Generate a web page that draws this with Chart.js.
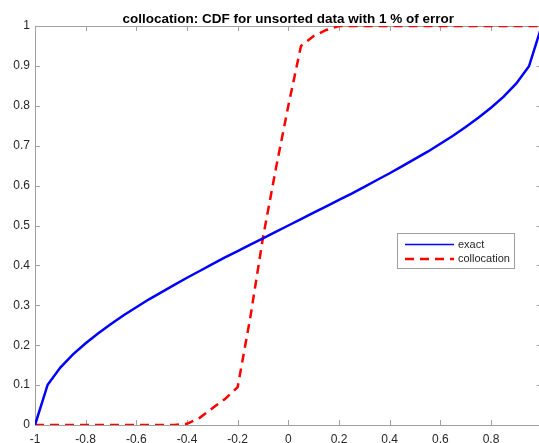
<!DOCTYPE html>
<html><head><meta charset="utf-8">
<script src="https://cdn.jsdelivr.net/npm/chart.js@4/dist/chart.umd.min.js"></script>
<style>
html,body{margin:0;padding:0;background:#fff;overflow:hidden}
#wrap{width:539px;height:443px;overflow:hidden;position:relative;background:#fff}
canvas{display:block}
</style></head>
<body><div id="wrap"><canvas id="c" width="552" height="443"></canvas></div>
<script>
const titleText = 'collocation: CDF for unsorted data with 1 % of error';
const seriesNames = ['exact', 'collocation'];

const xExact = [-1, -0.95, -0.9, -0.85, -0.8, -0.75, -0.7, -0.65, -0.6, -0.55, -0.5, -0.45, -0.4, -0.35, -0.3, -0.25, -0.2, -0.15, -0.1, -0.05, 0,
                0.05, 0.1, 0.15, 0.2, 0.25, 0.3, 0.35, 0.4, 0.45, 0.5, 0.55, 0.6, 0.65, 0.7, 0.75, 0.8, 0.85, 0.9, 0.95, 1];
const yExact = [0, 0.101, 0.144, 0.177, 0.205, 0.230, 0.253, 0.275, 0.295, 0.315, 0.333, 0.351, 0.369, 0.386, 0.403, 0.420, 0.436, 0.452, 0.468, 0.484, 0.5,
                0.516, 0.532, 0.548, 0.564, 0.580, 0.597, 0.614, 0.631, 0.649, 0.667, 0.685, 0.705, 0.725, 0.747, 0.770, 0.795, 0.823, 0.856, 0.899, 1];

const xColloc = [-1, -0.45, -0.4, -0.35, -0.3, -0.25, -0.2, -0.15, -0.1, -0.05, 0, 0.05, 0.1, 0.15, 0.2, 1];
const yColloc = [0, 0, 0.003, 0.018, 0.042, 0.065, 0.095, 0.27, 0.47, 0.64, 0.8, 0.95, 0.975, 0.99, 1, 1];

const xTickValues = [-1, -0.8, -0.6, -0.4, -0.2, 0, 0.2, 0.4, 0.6, 0.8, 1];
const xTickLabels = ['-1', '-0.8', '-0.6', '-0.4', '-0.2', '0', '0.2', '0.4', '0.6', '0.8', '1'];
const yTickValues = [0, 0.1, 0.2, 0.3, 0.4, 0.5, 0.6, 0.7, 0.8, 0.9, 1];
const yTickLabels = ['0', '0.1', '0.2', '0.3', '0.4', '0.5', '0.6', '0.7', '0.8', '0.9', '1'];

const AXIS_COLOR = '#a0a0a0';
const TEXT_COLOR = '#262626';
const FONT = '"Liberation Sans", Arial, Helvetica, sans-serif';

const toPts = (xs, ys) => xs.map((x, i) => ({x: x, y: ys[i]}));

const matlabAxes = {
  id: 'matlabAxes',
  beforeDatasetsDraw(chart) {
    const {ctx, chartArea: a, scales: {x, y}} = chart;
    ctx.save();
    ctx.strokeStyle = AXIS_COLOR;
    ctx.lineWidth = 1;
    ctx.beginPath();
    ctx.moveTo(a.left, a.top + 0.5); ctx.lineTo(a.right, a.top + 0.5);
    xTickValues.forEach(v => {
      const px = Math.round(x.getPixelForValue(v)) + 0.5;
      ctx.moveTo(px, a.bottom); ctx.lineTo(px, a.bottom - 5);
      ctx.moveTo(px, a.top); ctx.lineTo(px, a.top + 5);
    });
    yTickValues.forEach(v => {
      const py = Math.round(y.getPixelForValue(v)) + 0.5;
      ctx.moveTo(a.left, py); ctx.lineTo(a.left + 5, py);
      ctx.moveTo(a.right, py); ctx.lineTo(a.right - 5, py);
    });
    ctx.stroke();
    ctx.restore();
  },
  afterDraw(chart) {
    const {ctx, chartArea: a} = chart;
    ctx.save();
    ctx.fillStyle = '#000';
    ctx.font = 'bold 13.5px ' + FONT;
    ctx.textAlign = 'center';
    ctx.textBaseline = 'alphabetic';
    ctx.fillText(titleText, (a.left + a.right) / 2, 23);
    const bx = 397.5, by = 233.5, bw = 117, bh = 35;
    ctx.fillStyle = '#fff';
    ctx.fillRect(bx, by, bw, bh);
    ctx.strokeStyle = AXIS_COLOR;
    ctx.lineWidth = 1;
    ctx.strokeRect(bx, by, bw, bh);
    const ds = chart.data.datasets;
    const rows = [244.5, 259];
    ds.forEach((d, i) => {
      ctx.save();
      ctx.strokeStyle = d.borderColor;
      ctx.lineWidth = i === 0 ? 1.5 : 2.5;
      ctx.setLineDash(i === 0 ? [] : [9, 6]);
      ctx.beginPath();
      ctx.moveTo(405, rows[i]); ctx.lineTo(454, rows[i]);
      ctx.stroke();
      ctx.restore();
      ctx.fillStyle = TEXT_COLOR;
      ctx.font = '11px ' + FONT;
      ctx.textAlign = 'left';
      ctx.textBaseline = 'middle';
      ctx.fillText(d.label, 458, rows[i]);
    });
    ctx.restore();
  }
};

new Chart(document.getElementById('c'), {
  type: 'line',
  data: {
    datasets: [
      {label: seriesNames[0], data: toPts(xExact, yExact), borderColor: '#0000ff', borderWidth: 2.5,
       pointRadius: 0, fill: false, tension: 0},
      {label: seriesNames[1], data: toPts(xColloc, yColloc), borderColor: '#ff0000', borderWidth: 2.5,
       borderDash: [9, 6], pointRadius: 0, fill: false, tension: 0}
    ]
  },
  options: {
    responsive: false,
    animation: false,
    devicePixelRatio: 1,
    layout: {padding: {top: 26, right: 3, left: 0, bottom: 0}},
    plugins: {legend: {display: false}, title: {display: false}, tooltip: {enabled: false}},
    scales: {
      x: {
        type: 'linear', min: -1, max: 1,
        afterBuildTicks: s => { s.ticks = xTickValues.map(v => ({value: v})); },
        afterFit: s => { s.height = 18; },
        grid: {display: false, drawTicks: false},
        border: {display: true, color: AXIS_COLOR, width: 1},
        ticks: {padding: 7, color: TEXT_COLOR, font: {family: FONT, size: 12}, maxRotation: 0, autoSkip: false,
                callback: (v, i) => xTickLabels[i]}
      },
      y: {
        type: 'linear', min: 0, max: 1,
        afterBuildTicks: s => { s.ticks = yTickValues.map(v => ({value: v})); },
        afterFit: s => { s.width = 35; },
        grid: {display: false, drawTicks: false},
        border: {display: true, color: AXIS_COLOR, width: 1},
        ticks: {padding: 5, color: TEXT_COLOR, font: {family: FONT, size: 12}, autoSkip: false,
                callback: (v, i) => yTickLabels[i]}
      }
    }
  },
  plugins: [matlabAxes]
});
</script>
</body></html>
